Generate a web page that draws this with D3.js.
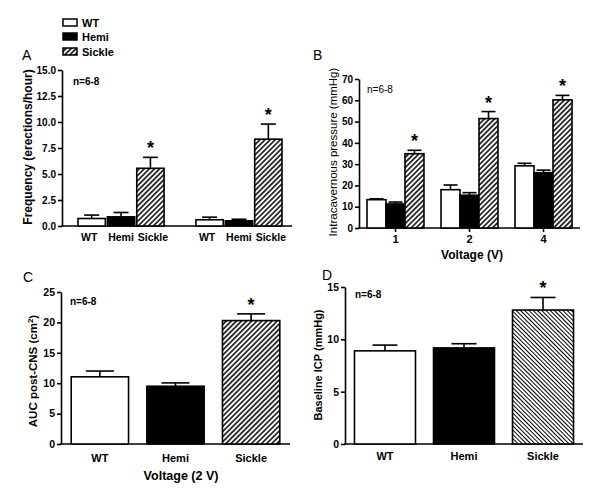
<!DOCTYPE html>
<html><head><meta charset="utf-8">
<script src="https://cdn.jsdelivr.net/npm/d3@7"></script>
<style>
body{margin:0;background:#fff}
svg{display:block}
text{font-family:"Liberation Sans",Arial,Helvetica,sans-serif;fill:#000}
</style>
</head><body>
<svg id="c" width="600" height="491"></svg>
<script>
// ---------- DATA ----------
const seriesNames = ["WT", "Hemi", "Sickle"];
const sickleSig = [false, false, true];

// Panel A: erection frequency, two conditions
const freqGroups = ["g1", "g2"];
const freqMean = [[0.72, 0.88, 5.55], [0.6, 0.5, 8.35]];
const freqSem  = [[0.33, 0.42, 1.05], [0.25, 0.15, 1.45]];
const freqTicks = [0, 2.5, 5, 7.5, 10, 12.5, 15];

// Panel B: ICP by voltage
const icpVoltages = ["1", "2", "4"];
const icpMean = [[13.3, 11.3, 34.9], [18.0, 15.4, 51.4], [29.2, 26.0, 60.2]];
const icpSem  = [[0.4, 0.9, 1.6], [2.2, 1.2, 3.3], [1.2, 1.2, 2.1]];
const icpTicks = [0, 10, 20, 30, 40, 50, 60, 70];

// Panel C: AUC post-CNS at 2 V
const aucMean = [11.05, 9.5, 20.3];
const aucSem  = [0.95, 0.55, 1.1];
const aucTicks = [0, 5, 10, 15, 20, 25];

// Panel D: baseline ICP
const baseMean = [8.9, 9.18, 12.8];
const baseSem  = [0.55, 0.4, 1.2];
const baseTicks = [0, 5, 10, 15];

// ---------- DRAW ----------
const svg = d3.select("#c");
const defs = svg.append("defs");
function hatch(id, size, angle, sw) {
  const p = defs.append("pattern").attr("id", id)
    .attr("patternUnits", "userSpaceOnUse")
    .attr("width", size).attr("height", size)
    .attr("patternTransform", `rotate(${angle})`);
  p.append("rect").attr("width", size).attr("height", size).attr("fill", "#fff");
  p.append("line").attr("x1", size / 2).attr("x2", size / 2)
    .attr("y1", -1).attr("y2", size + 1)
    .attr("stroke", "#000").attr("stroke-width", sw);
}
hatch("hatchF", 3.6, 45, 1.5);
hatch("hatchD", 3.0, -45, 1.0);

function fillFor(s, hid) { return s === 0 ? "#fff" : s === 1 ? "#000" : `url(#${hid})`; }

function yAxis(y, ticks, x0, fmt, weight, size) {
  const g = svg.append("g").attr("transform", `translate(${x0},0)`)
    .call(d3.axisLeft(y).tickValues(ticks).tickSize(4).tickSizeOuter(0).tickPadding(2).tickFormat(fmt));
  g.select(".domain").attr("stroke", "#000").attr("stroke-width", 1.6);
  g.selectAll(".tick line").attr("stroke", "#000").attr("stroke-width", 1.6);
  g.selectAll(".tick text").style("font-size", size + "px").style("font-weight", weight)
    .style("font-family", '"Liberation Sans",Arial,sans-serif').attr("fill", "#000");
  return g;
}
function xLine(y0, xa, xb) {
  svg.append("line").attr("x1", xa - 0.8).attr("x2", xb).attr("y1", y0).attr("y2", y0)
    .attr("stroke", "#000").attr("stroke-width", 1.6);
}
function drawBars(bars, y, capW, hid) {
  const g = svg.append("g");
  bars.forEach(b => {
    const top = y(b.mean), et = y(b.mean + b.sem), cx = b.x + b.w / 2;
    g.append("line").attr("x1", cx).attr("x2", cx).attr("y1", top).attr("y2", et)
      .attr("stroke", "#000").attr("stroke-width", 1.6);
    g.append("line").attr("x1", cx - capW / 2).attr("x2", cx + capW / 2).attr("y1", et).attr("y2", et)
      .attr("stroke", "#000").attr("stroke-width", 1.6);
    g.append("rect").attr("x", b.x).attr("y", top).attr("width", b.w)
      .attr("height", y(0) - top).attr("fill", fillFor(b.s, hid))
      .attr("stroke", "#000").attr("stroke-width", 1.6);
    if (b.sig) {
      g.append("text").attr("x", cx).attr("y", et - 3).attr("text-anchor", "middle")
        .style("font-size", "18px").style("font-weight", "bold").text("*");
    }
  });
}
function label(txt, x, y, opts = {}) {
  const t = svg.append("text").attr("x", x).attr("y", y)
    .attr("text-anchor", opts.anchor || "start")
    .style("font-size", (opts.size || 11) + "px")
    .style("font-weight", opts.weight || "normal");
  if (opts.rot) t.attr("transform", `rotate(-90,${x},${y})`);
  t.text(txt);
  return t;
}

// Legend
const legendY = [19, 33, 48];
seriesNames.forEach((n, i) => {
  svg.append("rect").attr("x", 63).attr("y", legendY[i]).attr("width", 14).attr("height", 7)
    .attr("fill", fillFor(i, "hatchF")).attr("stroke", "#000").attr("stroke-width", 1.5);
  label(n, 82, legendY[i] + 7.5, { weight: "bold", size: 11 });
});

// ---- Panel A ----
{
  const y = d3.scaleLinear().domain([0, 15]).range([226, 70]);
  const xo = d3.scaleBand().domain(freqGroups).range([78, 282]).paddingInner(0.27);
  const xi = d3.scaleBand().domain(d3.range(3)).range([0, xo.bandwidth()]).paddingInner(0.07);
  yAxis(y, freqTicks, 62, d3.format(".1f"), "bold", 10);
  xLine(226, 62, 292);
  const bars = [];
  freqGroups.forEach((g, gi) => seriesNames.forEach((s, si) => {
    bars.push({ x: xo(g) + xi(si), w: xi.bandwidth(), mean: freqMean[gi][si], sem: freqSem[gi][si], s: si, sig: sickleSig[si] });
    label(s, xo(g) + xi(si) + xi.bandwidth() / 2 + (si - 1) * 2.5, 241, { anchor: "middle", weight: "bold", size: 10.5 });
  }));
  drawBars(bars, y, 15, "hatchF");
  label("A", 22, 60, { size: 14 });
  label("n=6-8", 73, 85, { weight: "bold", size: 10 });
  label("Frequency (erections/hour)", 32, 147, { anchor: "middle", weight: "bold", size: 12, rot: true });
}

// ---- Panel B ----
{
  const y = d3.scaleLinear().domain([0, 70]).range([228, 79]);
  const xo = d3.scaleBand().domain(icpVoltages).range([359, 580]).paddingInner(0.23).paddingOuter(0.108);
  const xi = d3.scaleBand().domain(d3.range(3)).range([0, xo.bandwidth()]);
  yAxis(y, icpTicks, 359, d3.format("d"), "bold", 10);
  xLine(228, 359, 580);
  const bars = [];
  icpVoltages.forEach((v, gi) => {
    seriesNames.forEach((s, si) => {
      bars.push({ x: xo(v) + xi(si), w: xi.bandwidth(), mean: icpMean[gi][si], sem: icpSem[gi][si], s: si, sig: sickleSig[si] });
    });
    const cx = xo(v) + xo.bandwidth() / 2;
    svg.append("line").attr("x1", cx).attr("x2", cx).attr("y1", 228).attr("y2", 232)
      .attr("stroke", "#000").attr("stroke-width", 1.6);
    label(v, cx, 243, { anchor: "middle", weight: "bold", size: 11 });
  });
  drawBars(bars, y, 14, "hatchF");
  label("B", 313, 60, { size: 14 });
  label("n=6-8", 367, 93, { size: 10 });
  label("Intracavernous pressure (mmHg)", 337, 152, { anchor: "middle", size: 11.5, rot: true });
  label("Voltage (V)", 472, 259, { anchor: "middle", weight: "bold", size: 12 });
}

// ---- Panel C ----
{
  const y = d3.scaleLinear().domain([0, 25]).range([444, 292]);
  const x = d3.scaleBand().domain(seriesNames).range([61, 290]).paddingInner(0.242).paddingOuter(0.135);
  yAxis(y, aucTicks, 61, d3.format("d"), "bold", 10.5);
  xLine(444, 61, 290);
  const bars = seriesNames.map((s, si) => ({ x: x(s), w: x.bandwidth(), mean: aucMean[si], sem: aucSem[si], s: si, sig: sickleSig[si] }));
  seriesNames.forEach(s => label(s, x(s) + x.bandwidth() / 2, 462, { anchor: "middle", weight: "bold", size: 11 }));
  drawBars(bars, y, 28, "hatchF");
  label("C", 23, 282, { size: 14 });
  label("n=6-8", 70, 305, { weight: "bold", size: 10 });
  const t = label("AUC post-CNS (cm", 37, 371, { anchor: "middle", weight: "bold", size: 11.5, rot: true });
  t.append("tspan").attr("dy", -4).style("font-size", "8px").text("2");
  t.append("tspan").attr("dy", 4).text(")");
  label("Voltage (2 V)", 181, 480, { anchor: "middle", weight: "bold", size: 12.5 });
}

// ---- Panel D ----
{
  const y = d3.scaleLinear().domain([0, 15]).range([444, 287]);
  const x = d3.scaleBand().domain(seriesNames).range([345, 583]).paddingInner(0.228).paddingOuter(0.12);
  yAxis(y, baseTicks, 345, d3.format("d"), "bold", 10.5);
  xLine(444, 345, 583);
  const bars = seriesNames.map((s, si) => ({ x: x(s), w: x.bandwidth(), mean: baseMean[si], sem: baseSem[si], s: si, sig: sickleSig[si] }));
  seriesNames.forEach(s => label(s, x(s) + x.bandwidth() / 2, 460, { anchor: "middle", weight: "bold", size: 11 }));
  drawBars(bars, y, 25, "hatchD");
  label("D", 322, 280, { size: 14 });
  label("n=6-8", 355, 298, { weight: "bold", size: 10 });
  label("Baseline ICP (mmHg)", 322, 365, { anchor: "middle", weight: "bold", size: 11, rot: true });
}
</script>
</body></html>
